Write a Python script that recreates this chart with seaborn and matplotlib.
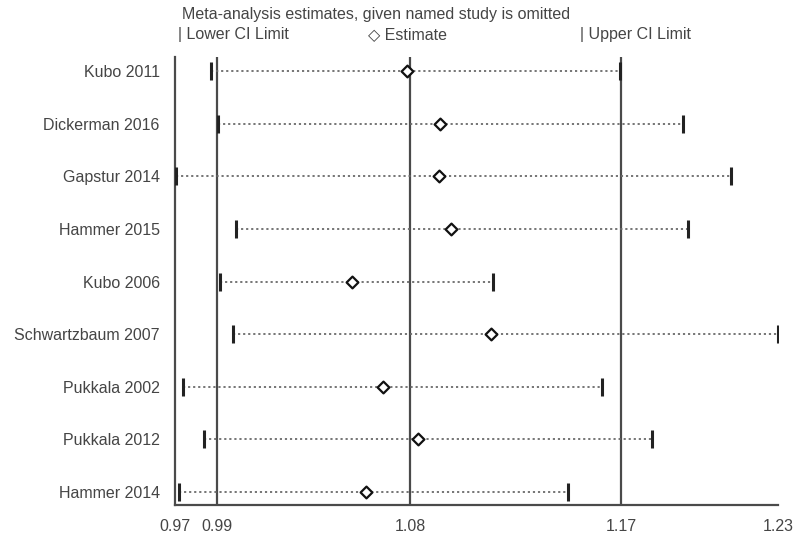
import numpy as np
import pandas as pd
import seaborn as sns
import matplotlib.pyplot as plt

# Dados
studies = ["Kubo 2011", "Dickerman 2016", "Gapstur 2014", "Hammer 2015", "Kubo 2006",
           "Schwartzbaum 2007", "Pukkala 2002", "Pukkala 2012", "Hammer 2014"]
estimate = [1.0785, 1.0928, 1.0922, 1.0974, 1.0531, 1.1144, 1.0672, 1.0832, 1.0593]
lower_ci = [0.9870, 0.9906, 0.9703, 0.9989, 0.9914, 0.9973, 0.9740, 0.9840, 0.9719]
upper_ci = [1.1696, 1.1938, 1.2120, 1.1957, 1.1155, 1.2301, 1.1620, 1.1817, 1.1473]

tick_values = [0.97, 0.99, 1.08, 1.17, 1.23]
tick_labels = ["0.97", "0.99", "1.08", "1.17", "1.23"]
# the original axis is not evenly spaced between labels; positions of the labels on it
tick_spacing = [0.0, 42.0, 235.0, 446.0, 603.0]

df = pd.DataFrame({"Study": studies, "Estimate": estimate,
                   "Lower": lower_ci, "Upper": upper_ci})
df["row"] = np.arange(len(df))

sns.set_style("white")
plt.rcParams["font.family"] = ["Liberation Sans", "DejaVu Sans"]
text_color = "#454545"
line_color = "#4a4a4a"

fig = plt.figure(figsize=(8.0, 5.39), dpi=100)
ax = fig.add_axes([0.21875, 0.0631, 0.7538, 0.8311])


def forward(v):
    return np.interp(v, tick_values, tick_spacing)


def inverse(p):
    return np.interp(p, tick_spacing, tick_values)


ax.set_xscale("function", functions=(forward, inverse))

# linhas de referência
for v in tick_values[1:4]:
    ax.axvline(v, color=line_color, lw=1.6, zorder=1)

# intervalos de confiança pontilhados
ax.hlines(df["row"], df["Lower"], df["Upper"], colors="#6a6a6a",
          linestyles=(0, (1.2, 1.6)), lw=1.3, zorder=2)

caps = pd.concat([df[["row", "Lower"]].rename(columns={"Lower": "x"}),
                  df[["row", "Upper"]].rename(columns={"Upper": "x"})])
sns.scatterplot(data=caps, x="x", y="row", marker="|", s=150, color="#222222",
                linewidth=2.2, ax=ax, zorder=3, legend=False)
sns.scatterplot(data=df, x="Estimate", y="row", marker="D", s=36,
                facecolor="white", edgecolor="#111111", linewidth=1.6,
                ax=ax, zorder=4, legend=False)

ax.set_xlim(0.97, 1.23)
ax.set_ylim(8.25, -0.27)
ax.set_xticks(tick_values)
ax.set_xticklabels(tick_labels)
ax.set_yticks(df["row"])
ax.set_yticklabels(studies)
ax.set_xlabel("")
ax.set_ylabel("")

for side in ["top", "right"]:
    ax.spines[side].set_visible(False)
for side in ["left", "bottom"]:
    ax.spines[side].set_color(line_color)
    ax.spines[side].set_linewidth(1.6)

ax.tick_params(axis="x", direction="out", length=7, width=1.6, color=line_color,
               labelsize=11.5, labelcolor=text_color, pad=3)
ax.tick_params(axis="y", length=0, labelsize=11.5, labelcolor=text_color, pad=11)

# título e legenda no topo
fig.text(182 / 800, 1 - 14 / 539, "Meta-analysis estimates, given named study is omitted",
         fontsize=11.5, color=text_color, va="center", ha="left")
fig.text(178 / 800, 1 - 35 / 539, "| Lower CI Limit", fontsize=11.5,
         color=text_color, va="center", ha="left")
fig.text(368 / 800, 1 - 35 / 539, "◇ Estimate", fontsize=11.5,
         color=text_color, va="center", ha="left")
fig.text(580 / 800, 1 - 35 / 539, "| Upper CI Limit", fontsize=11.5,
         color=text_color, va="center", ha="left")

plt.savefig("out.png", dpi=100)
plt.close()
